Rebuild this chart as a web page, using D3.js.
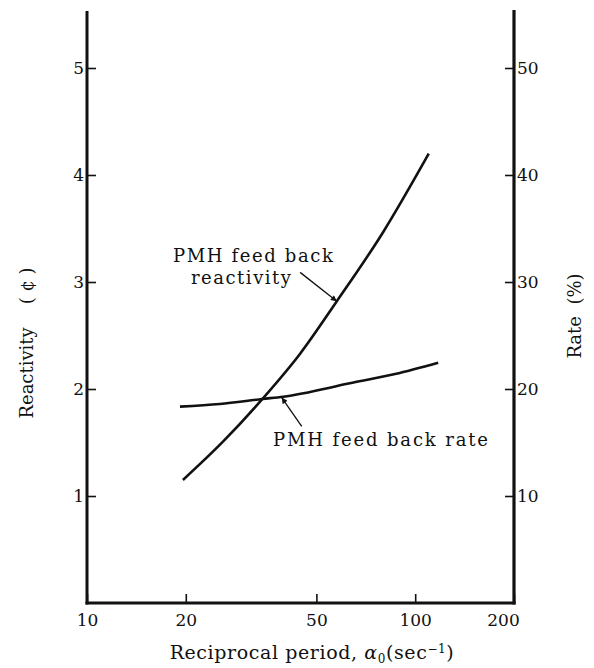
<!DOCTYPE html>
<html>
<head>
<meta charset="utf-8">
<title>PMH feed back</title>
<script src="https://cdn.jsdelivr.net/npm/d3@7"></script>
<style>
body { margin: 0; background: #fff; }
text { font-family: "DejaVu Serif", "Liberation Serif", serif; fill: #111; }
.axis text { font-size: 17px; }
</style>
</head>
<body>
<script>
// values
var xTicks = [10, 20, 50, 100, 200];
var leftTicks = [1, 2, 3, 4, 5];
var rightTicks = [10, 20, 30, 40, 50];

// PMH feed back reactivity (cents) vs reciprocal period
var reactX = [19.6, 26, 34.3, 44.6, 57.7, 80, 110];
var reactY = [1.15, 1.51, 1.91, 2.33, 2.82, 3.47, 4.2];

// PMH feed back rate (%)
var rateX = [19.2, 25.4, 34.3, 39.6, 63.2, 86.8, 117.5];
var rateY = [18.35, 18.6, 19.07, 19.28, 20.53, 21.4, 22.46];

var W = 594, H = 668;
var mLeft = 87, mRight = 514, mTop = 14.5, mBottom = 603;

var svg = d3.select("body").append("svg")
    .attr("width", W).attr("height", H);

var defs = svg.append("defs");
defs.append("marker")
    .attr("id", "arr")
    .attr("viewBox", "0 0 10 10")
    .attr("refX", 10).attr("refY", 5)
    .attr("markerWidth", 10).attr("markerHeight", 6)
    .attr("markerUnits", "userSpaceOnUse")
    .attr("orient", "auto")
    .append("path").attr("d", "M0,0L10,5L0,10z").attr("fill", "#111");

var x = d3.scaleLog().domain([10, 200]).range([mLeft, mRight]);
var yL = d3.scaleLinear().domain([0, 5.5]).range([mBottom, mTop]);
var yR = d3.scaleLinear().domain([0, 55]).range([mBottom, mTop]);

// axes, ticks pointing inside
var gx = svg.append("g").attr("class", "axis")
    .attr("transform", "translate(0," + mBottom + ")")
    .call(d3.axisBottom(x).tickValues(xTicks).tickFormat(d3.format("d"))
        .tickSizeInner(-9).tickSizeOuter(0).tickPadding(5));
var gl = svg.append("g").attr("class", "axis")
    .attr("transform", "translate(" + mLeft + ",0)")
    .call(d3.axisLeft(yL).tickValues(leftTicks).tickFormat(d3.format("d"))
        .tickSizeInner(-9).tickSizeOuter(0).tickPadding(3));
var gr = svg.append("g").attr("class", "axis")
    .attr("transform", "translate(" + mRight + ",0)")
    .call(d3.axisRight(yR).tickValues(rightTicks).tickFormat(d3.format("d"))
        .tickSizeInner(-9).tickSizeOuter(0).tickPadding(3));

svg.selectAll(".axis .domain").remove();
svg.selectAll(".axis line").attr("stroke", "#111").attr("stroke-width", 1.6);
gx.selectAll(".tick text").attr("dy", "1.05em");
// the end labels sit a little inside the frame corners
gx.selectAll(".tick text").attr("dx", function(d) { return d == 200 ? -11 : 0; });

// frame lines (no top border)
svg.append("line").attr("x1", mLeft).attr("x2", mLeft).attr("y1", 11).attr("y2", mBottom + 1.5)
    .attr("stroke", "#111").attr("stroke-width", 3);
svg.append("line").attr("x1", mRight).attr("x2", mRight).attr("y1", 10).attr("y2", mBottom + 1.5)
    .attr("stroke", "#111").attr("stroke-width", 3.2);
svg.append("line").attr("x1", mLeft - 1.5).attr("x2", mRight + 1.6).attr("y1", mBottom).attr("y2", mBottom)
    .attr("stroke", "#111").attr("stroke-width", 3);

// curves
var lineL = d3.line().curve(d3.curveMonotoneX)
    .x(function(d) { return x(d[0]); }).y(function(d) { return yL(d[1]); });
var lineR = d3.line().curve(d3.curveMonotoneX)
    .x(function(d) { return x(d[0]); }).y(function(d) { return yR(d[1]); });

svg.append("path").datum(d3.zip(reactX, reactY))
    .attr("d", lineL).attr("fill", "none").attr("stroke", "#111").attr("stroke-width", 2.6);
svg.append("path").datum(d3.zip(rateX, rateY))
    .attr("d", lineR).attr("fill", "none").attr("stroke", "#111").attr("stroke-width", 2.6);

// annotations
svg.append("text").attr("x", 333).attr("y", 262).attr("text-anchor", "end")
    .style("font-size", "18px").attr("textLength", 160).attr("lengthAdjust", "spacing")
    .text("PMH feed back");
svg.append("text").attr("x", 291).attr("y", 284).attr("text-anchor", "end")
    .style("font-size", "18px").attr("textLength", 100).attr("lengthAdjust", "spacing")
    .text("reactivity");
svg.append("line")
    .attr("x1", x(44.6)).attr("y1", yL(3.09))
    .attr("x2", x(57.7)).attr("y2", yL(2.82))
    .attr("stroke", "#111").attr("stroke-width", 1.3).attr("marker-end", "url(#arr)");

svg.append("text").attr("x", 273).attr("y", 446)
    .style("font-size", "18px").attr("textLength", 215).attr("lengthAdjust", "spacing")
    .text("PMH feed back rate");
svg.append("line")
    .attr("x1", x(45.1)).attr("y1", yR(16.5))
    .attr("x2", x(39.2)).attr("y2", yR(19.2))
    .attr("stroke", "#111").attr("stroke-width", 1.3).attr("marker-end", "url(#arr)");

// axis titles
svg.append("text").attr("transform", "translate(33,343) rotate(-90)")
    .attr("text-anchor", "middle").style("font-size", "18px")
    .attr("xml:space", "preserve").text("Reactivity    ( \u00a2 )");
svg.append("text").attr("transform", "translate(581,316) rotate(-90)")
    .attr("text-anchor", "middle").style("font-size", "18px")
    .attr("xml:space", "preserve").text("Rate  (%)");

var xt = svg.append("text").attr("x", 312).attr("y", 659)
    .attr("text-anchor", "middle").style("font-size", "19px").style("letter-spacing", "0.6px");
xt.append("tspan").text("Reciprocal period, ");
xt.append("tspan").style("font-style", "italic").text("\u03b1");
xt.append("tspan").attr("dy", 4).style("font-size", "12px").text("0");
xt.append("tspan").attr("dy", -4).text("(sec");
xt.append("tspan").attr("dy", -6).style("font-size", "12px").text("\u22121");
xt.append("tspan").attr("dy", 6).text(")");
</script>
</body>
</html>
